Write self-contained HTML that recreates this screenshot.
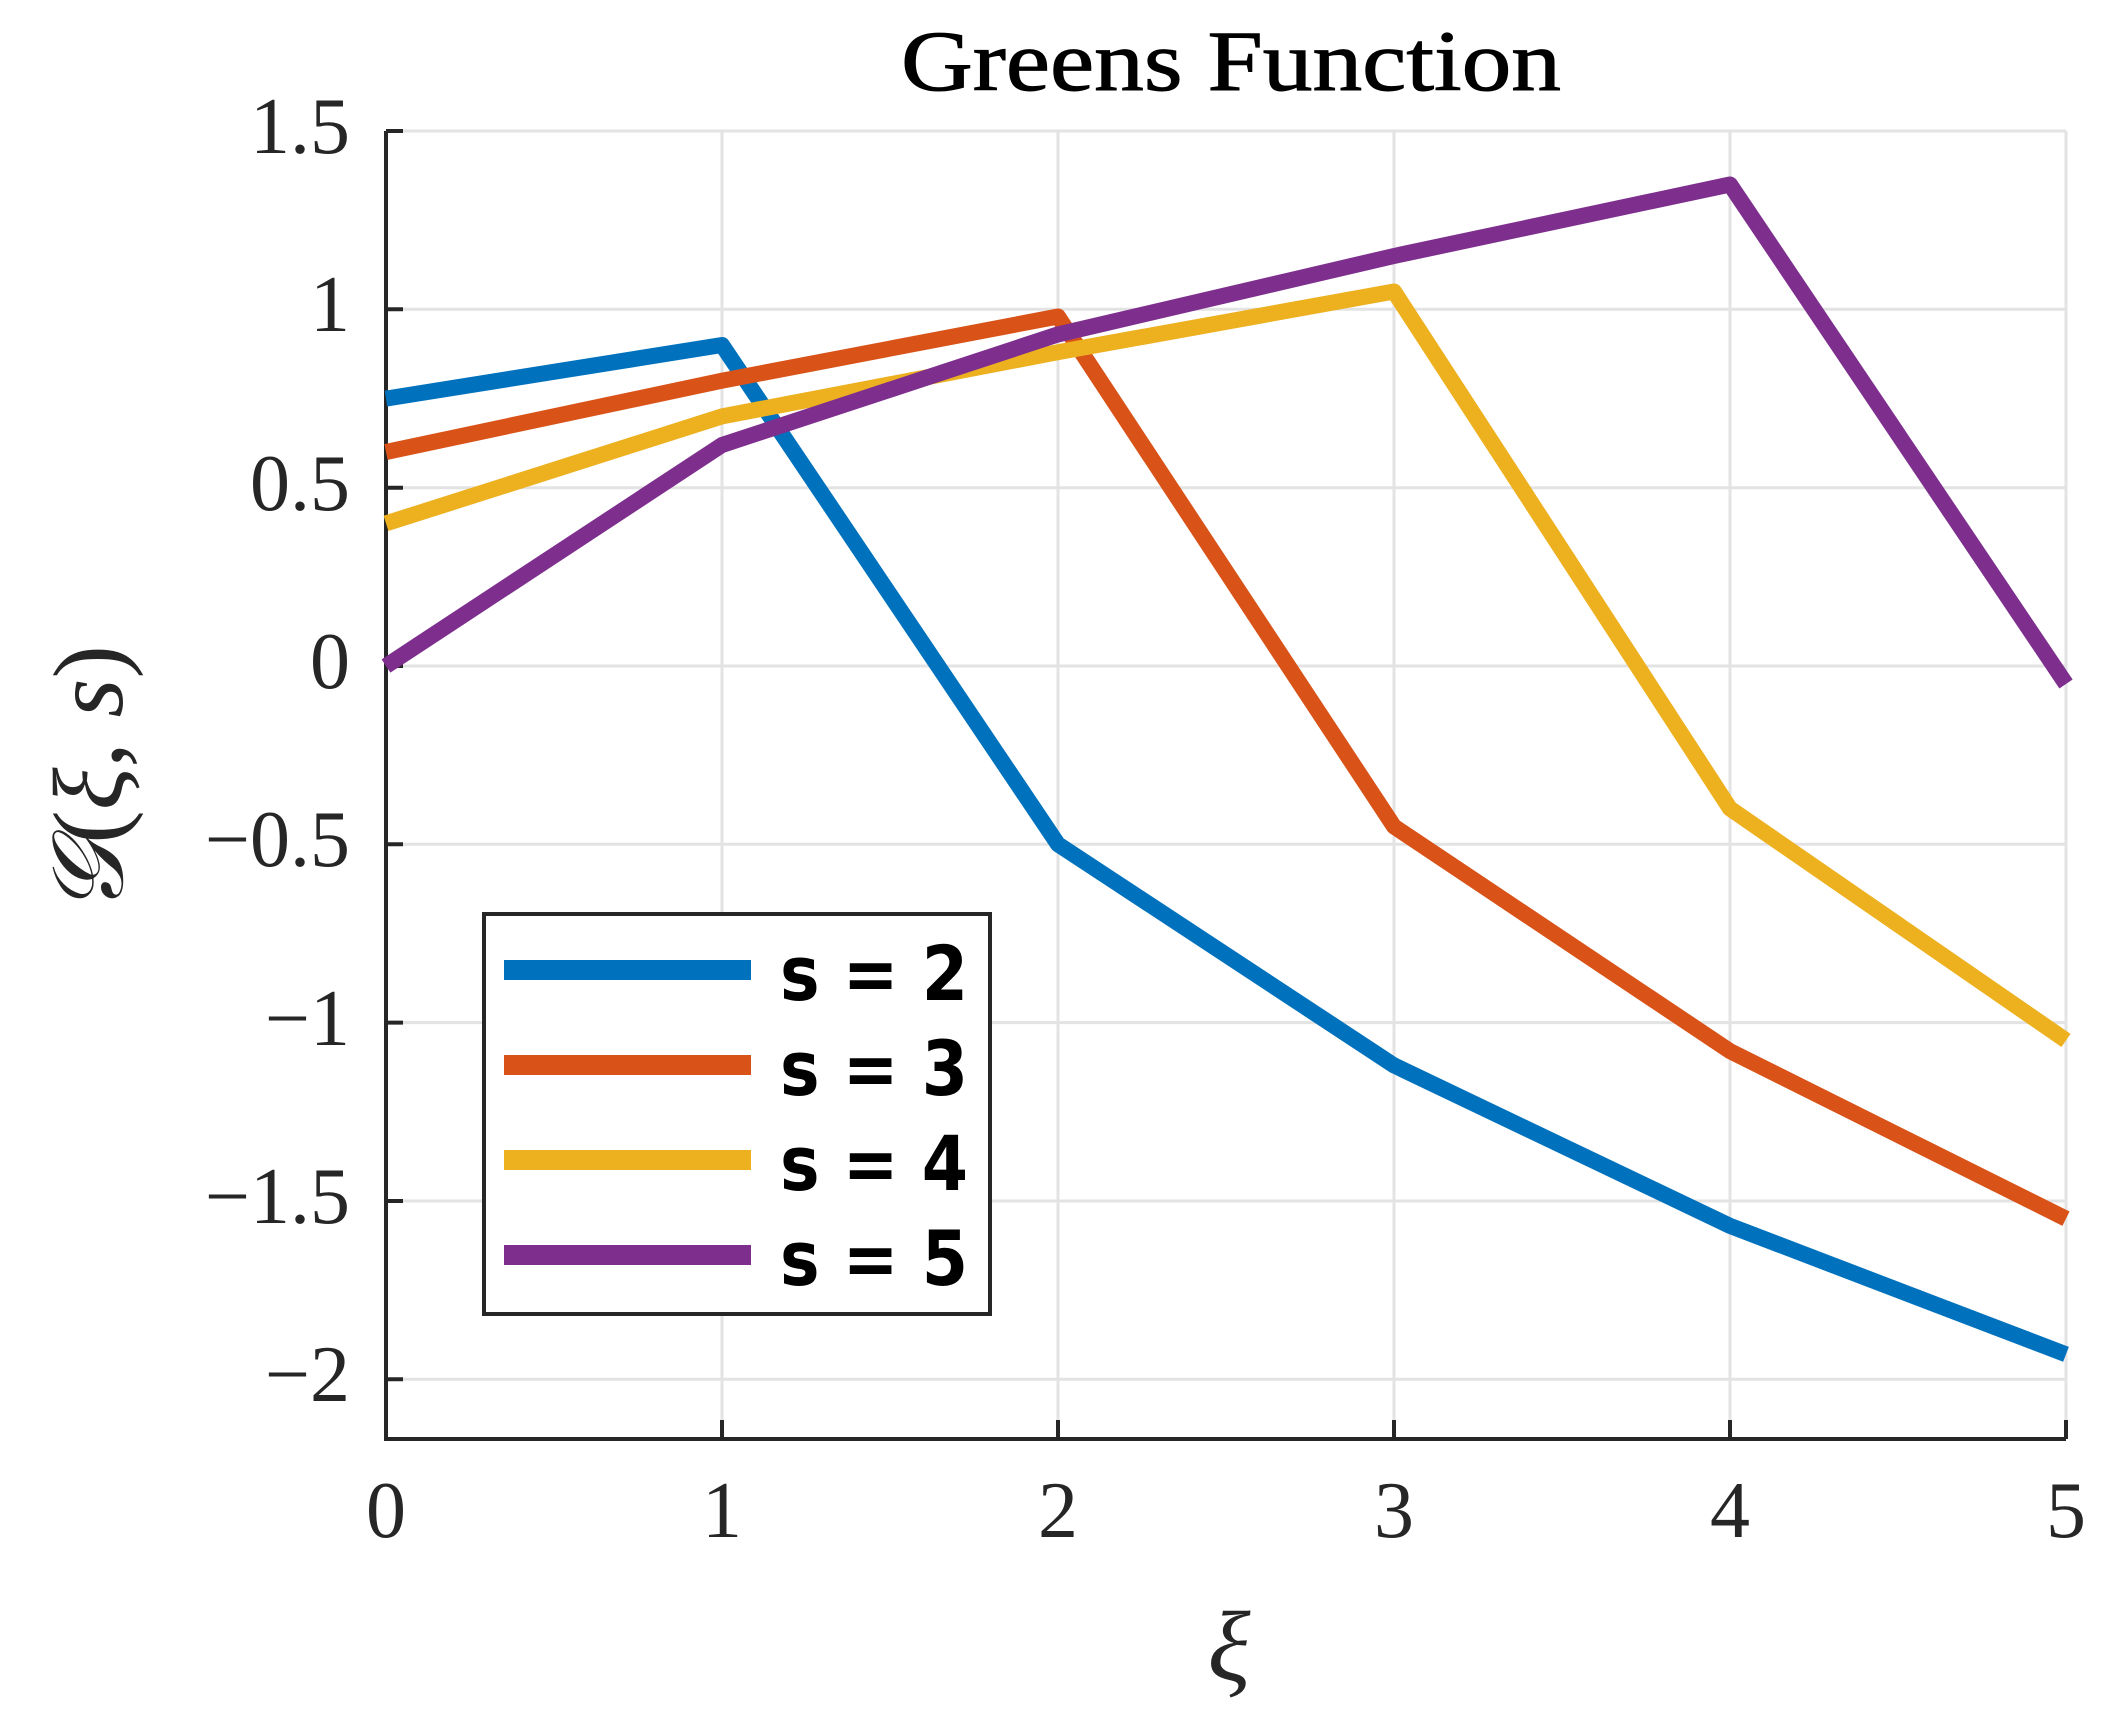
<!DOCTYPE html>
<html><head><meta charset="utf-8"><style>html,body{margin:0;padding:0;background:#fff}svg{display:block}</style></head>
<body>
<svg width="2128" height="1728" viewBox="0 0 2128 1728" xmlns="http://www.w3.org/2000/svg">
<rect width="2128" height="1728" fill="#fff"/>
<g stroke="#e3e3e3" stroke-width="3">
<line x1="386" y1="131" x2="2066" y2="131"/>
<line x1="386" y1="309.3" x2="2066" y2="309.3"/>
<line x1="386" y1="487.7" x2="2066" y2="487.7"/>
<line x1="386" y1="666" x2="2066" y2="666"/>
<line x1="386" y1="844.3" x2="2066" y2="844.3"/>
<line x1="386" y1="1022.6" x2="2066" y2="1022.6"/>
<line x1="386" y1="1201" x2="2066" y2="1201"/>
<line x1="386" y1="1379.2" x2="2066" y2="1379.2"/>
<line x1="722" y1="131" x2="722" y2="1439"/>
<line x1="1058" y1="131" x2="1058" y2="1439"/>
<line x1="1394" y1="131" x2="1394" y2="1439"/>
<line x1="1730" y1="131" x2="1730" y2="1439"/>
<line x1="2066" y1="131" x2="2066" y2="1439"/>
</g>
<g stroke="#262626" stroke-width="4" fill="none">
<polyline points="386,131 386,1439 2066,1439"/>
<line x1="386" y1="131" x2="403" y2="131"/><line x1="386" y1="309.3" x2="403" y2="309.3"/>
<line x1="386" y1="487.7" x2="403" y2="487.7"/><line x1="386" y1="666" x2="403" y2="666"/>
<line x1="386" y1="844.3" x2="403" y2="844.3"/><line x1="386" y1="1022.6" x2="403" y2="1022.6"/>
<line x1="386" y1="1201" x2="403" y2="1201"/><line x1="386" y1="1379.2" x2="403" y2="1379.2"/>
<line x1="722" y1="1439" x2="722" y2="1420"/><line x1="1058" y1="1439" x2="1058" y2="1420"/>
<line x1="1394" y1="1439" x2="1394" y2="1420"/><line x1="1730" y1="1439" x2="1730" y2="1420"/>
<line x1="2066" y1="1439" x2="2066" y2="1420"/>
</g>
<g font-family="Liberation Serif, serif" font-size="80" fill="#262626" text-anchor="end">
<text x="350" y="153">1.5</text>
<text x="350" y="331">1</text>
<text x="350" y="510">0.5</text>
<text x="350" y="688">0</text>
<text x="350" y="866">−0.5</text>
<text x="350" y="1045">−1</text>
<text x="350" y="1223">−1.5</text>
<text x="350" y="1401">−2</text>
</g>
<g font-family="Liberation Serif, serif" font-size="80" fill="#262626" text-anchor="middle">
<text x="386" y="1537">0</text><text x="722" y="1537">1</text><text x="1058" y="1537">2</text>
<text x="1394" y="1537">3</text><text x="1730" y="1537">4</text><text x="2066" y="1537">5</text>
</g>
<text x="1231" y="90" font-family="Liberation Serif, serif" font-size="86" text-anchor="middle" textLength="660" lengthAdjust="spacingAndGlyphs" fill="#000" stroke="#000" stroke-width="1">Greens Function</text>
<text x="1229" y="1680" font-family="Liberation Serif, serif" font-style="italic" font-size="100" text-anchor="middle" fill="#262626">ξ</text>
<text transform="translate(122,780) rotate(-90)" font-family="Liberation Serif, serif" font-size="100" text-anchor="middle" fill="#262626"><tspan font-style="italic">𝒢</tspan>(<tspan font-style="italic">ξ</tspan>, <tspan font-style="italic">s</tspan>)</text>
<g fill="none" stroke-width="16" stroke-linejoin="round">
<polyline stroke="#0072BD" points="386,398.6 722,345 1058,844.3 1394,1065.4 1730,1225.9 2066,1354.3"/>
<polyline stroke="#D95319" points="386,452 722,380.7 1058,316.5 1394,826.5 1730,1051.1 2066,1218.7"/>
<polyline stroke="#EDB120" points="386,523.4 722,416.4 1058,352.2 1394,291.5 1730,808.6 2066,1040.4"/>
<polyline stroke="#7E2F8E" points="386,666 722,445 1058,334.4 1394,256 1730,184.5 2066,684"/>
</g>
<rect x="484" y="914" width="506" height="400" fill="#fff" stroke="#262626" stroke-width="4"/>
<g stroke-width="20">
<line x1="504" y1="970" x2="751" y2="970" stroke="#0072BD"/>
<line x1="504" y1="1065" x2="751" y2="1065" stroke="#D95319"/>
<line x1="504" y1="1160" x2="751" y2="1160" stroke="#EDB120"/>
<line x1="504" y1="1255" x2="751" y2="1255" stroke="#7E2F8E"/>
</g>
<g font-family="DejaVu Sans, sans-serif" font-weight="bold" font-size="76" fill="#000">
<text x="780" y="1000" textLength="188" lengthAdjust="spacingAndGlyphs">s = 2</text>
<text x="780" y="1095" textLength="188" lengthAdjust="spacingAndGlyphs">s = 3</text>
<text x="780" y="1190" textLength="188" lengthAdjust="spacingAndGlyphs">s = 4</text>
<text x="780" y="1285" textLength="188" lengthAdjust="spacingAndGlyphs">s = 5</text>
</g>
</svg>
</body></html>
